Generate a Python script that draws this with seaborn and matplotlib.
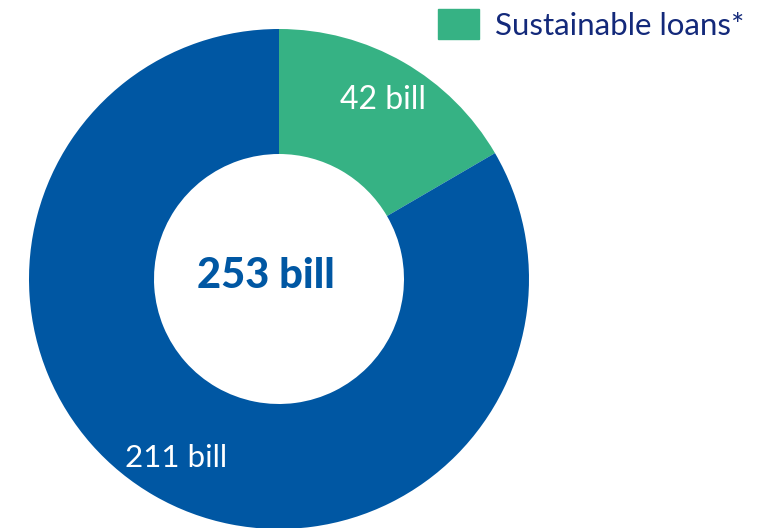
import matplotlib.pyplot as plt
import seaborn as sns
from matplotlib.patches import Patch

# dados
categorias = ['Sustainable loans*', 'Other loans']
valores = [42, 211]
rotulos = ['42 bill', '211 bill']
total_label = '253 bill'
cores = ['#36B284', '#0057A3']

sns.set_style('white')
plt.rcParams['font.family'] = ['Lato', 'DejaVu Sans']

W, H = 769, 528
fig = plt.figure(figsize=(W / 100, H / 100), dpi=100)
ax = fig.add_axes([0, 0, 1, 1])

cx, cy, r = 279, H - 279, 250
wedges, _ = ax.pie(valores, colors=cores, startangle=90, counterclock=False,
                   center=(cx, cy), radius=r,
                   wedgeprops=dict(width=125, linewidth=0))

ax.set_xlim(0, W)
ax.set_ylim(0, H)
ax.set_aspect('equal')
ax.axis('off')

# rótulos das fatias
ax.text(383, H - 100, rotulos[0], color='white', fontsize=23, ha='center', va='center')
ax.text(176, H - 458, rotulos[1], color='white', fontsize=22.5, ha='center', va='center')
ax.text(266, H - 276, total_label, color='#0057A3', fontsize=30, fontweight='black',
        ha='center', va='center')

# legenda só com a fatia verde
leg = ax.legend(handles=[Patch(color=cores[0], label=categorias[0])],
                loc='upper left', bbox_to_anchor=(422 / W, 1.012), frameon=False,
                fontsize=22.5, handlelength=1.33, handleheight=1.08, handletextpad=0.5,
                borderaxespad=0.1)
for t in leg.get_texts():
    t.set_color('#13297A')

fig.savefig('out.png', dpi=100)
